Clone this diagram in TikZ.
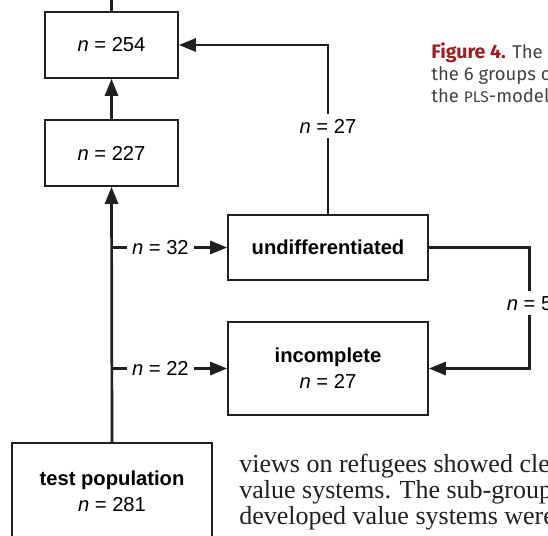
\documentclass[tikz,border=0pt]{standalone}
\usepackage{fontspec}
\setmainfont{Liberation Sans}
\newfontfamily\capfont{Fira Sans}
\newfontfamily\bodyfont{Liberation Serif}
\usepackage{xcolor}
\usetikzlibrary{arrows.meta,positioning}
\definecolor{figred}{HTML}{9E1F23}
\definecolor{ink}{HTML}{231F20}
\newcommand{\ncount}[1]{\textit{n} = #1}

\begin{document}
\begin{tikzpicture}[x=1pt,y=-1pt,font=\fontsize{20.2}{24}\selectfont,
    >={Triangle[length=17pt,width=13pt]},line width=2.7pt,draw=ink]
  \tikzstyle{box}=[draw=ink,line width=1.6pt,minimum width=133pt,minimum height=66pt,inner sep=0pt,align=center]
  \tikzstyle{lbl}=[fill=white,inner sep=5pt]
  \useasboundingbox (0,0) rectangle (548,535);
  \clip (0,0) rectangle (548,535);
  % boxes
  \node[box] (n254) at (111.5,45) {\ncount{254}};
  \node[box] (n227) at (111.5,153) {\ncount{227}};
  \node[box,minimum width=200pt,minimum height=65pt] (undiff) at (328,247.5) {\textbf{undifferentiated}};
  \node[box,minimum width=200pt,minimum height=93pt] (incompl) at (328,368.5) {\textbf{incomplete}\\[2pt]\ncount{27}};
  \node[box,minimum width=200pt,minimum height=96pt] (testpop) at (112,491) {\textbf{test population}\\[2pt]\ncount{281}};
  \coordinate (top) at (111.5,-5);
  \coordinate (rt) at (529.5,247.5);
  % connectors
  \draw (n254.north) -- (top);
  \draw[->] (n227) -- (n254);
  \draw[->] (testpop.north) -- (n227.south);
  \draw[->] (undiff.north) |- node[lbl,pos=0.26] {\ncount{27}} (n254.east);
  \draw[->] (undiff.east) -- (rt) |- node[lbl,pos=0.23] {\ncount{5}} (incompl.east);
  \draw[->] (testpop.north |- undiff.west) -- node[lbl,pos=0.42] {\ncount{32}} (undiff.west);
  \draw[->] (testpop.north |- incompl.east) -- node[lbl,pos=0.42] {\ncount{22}} (incompl.west);
  % caption and running text of the page
  \node[anchor=base west,inner sep=0pt,text=ink!85,font=\capfont\fontsize{18.5}{21}\selectfont] (cap1) at (430,59)
    {{\color{figred}\fontsize{19.5}{21}\selectfont\bfseries Figure 4.}\hspace{0.35em}The c};
  \node[anchor=base west,inner sep=0pt,text=ink!85,font=\capfont\fontsize{18.5}{21}\selectfont] (cap2) at (430,80) {the 6 groups o};
  \node[anchor=base west,inner sep=0pt,text=ink!85,font=\capfont\fontsize{18.5}{21}\selectfont] (cap3) at (430,102)
    {the {\fontsize{15.5}{17}\selectfont PLS}-models};
  \node[anchor=base west,inner sep=0pt,text=ink,font=\bodyfont\fontsize{26}{26}\selectfont] (body1) at (238,472) {views on refugees showed cle};
  \node[anchor=base west,inner sep=0pt,text=ink,font=\bodyfont\fontsize{26}{26}\selectfont] (body2) at (238,498) {value systems. The sub-group};
  \node[anchor=base west,inner sep=0pt,text=ink,font=\bodyfont\fontsize{26}{26}\selectfont] (body3) at (238,524) {developed value systems were s};
\end{tikzpicture}
\end{document}
